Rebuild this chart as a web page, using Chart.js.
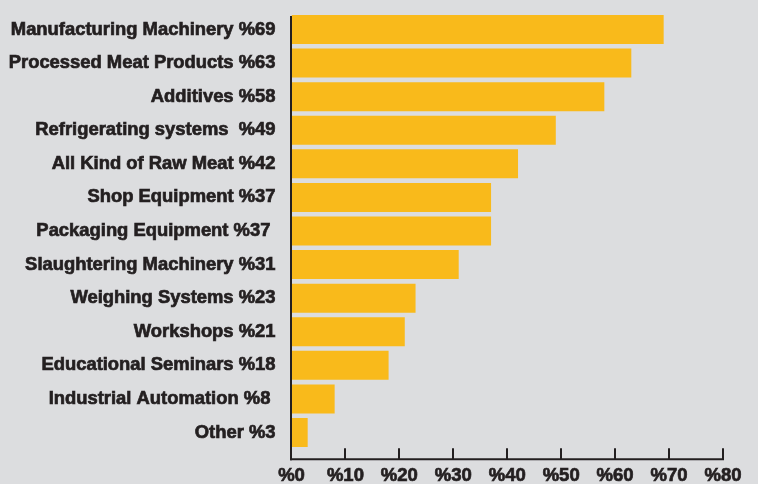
<!DOCTYPE html>
<html>
<head>
<meta charset="utf-8">
<script src="https://cdn.jsdelivr.net/npm/chart.js@4.4.1/dist/chart.umd.min.js"></script>
<style>
  html, body { margin: 0; padding: 0; background: #dcdddf; }
  #wrap { width: 758px; height: 484px; position: relative; }
</style>
</head>
<body>
<div id="wrap"><canvas id="c" width="758" height="484"></canvas></div>
<script>
const categories = [
  "Manufacturing Machinery %69",
  "Processed Meat Products %63",
  "Additives %58",
  "Refrigerating systems  %49",
  "All Kind of Raw Meat %42",
  "Shop Equipment %37",
  "Packaging Equipment %37 ",
  "Slaughtering Machinery %31",
  "Weighing Systems %23",
  "Workshops %21",
  "Educational Seminars %18",
  "Industrial Automation %8 ",
  "Other %3"
];
const values = [69, 63, 58, 49, 42, 37, 37, 31, 23, 21, 18, 8, 3];
const xTickValues = [0, 10, 20, 30, 40, 50, 60, 70, 80];
const xTickLabels = ["%0", "%10", "%20", "%30", "%40", "%50", "%60", "%70", "%80"];

const FONT = "'Liberation Sans', Arial, sans-serif";
const INK = "#231f20";

const axesPlugin = {
  id: 'axesPlugin',
  afterDatasetsDraw(chart) {
    const ctx = chart.ctx;
    const x = chart.scales.x;
    const area = chart.chartArea;
    const x0 = x.getPixelForValue(0);
    const baseY = area.bottom + 10;
    ctx.save();
    ctx.strokeStyle = INK;
    ctx.lineWidth = 2;
    ctx.beginPath();
    ctx.moveTo(x0 - 0.5, 16);
    ctx.lineTo(x0 - 0.5, baseY + 1);
    ctx.stroke();
    ctx.beginPath();
    ctx.moveTo(x0 - 1.5, baseY);
    ctx.lineTo(x.getPixelForValue(80) + 1, baseY);
    ctx.stroke();
    xTickValues.forEach(v => {
      if (v === 0) return;
      const px = Math.round(x.getPixelForValue(v));
      ctx.beginPath();
      ctx.moveTo(px, baseY - 11);
      ctx.lineTo(px, baseY);
      ctx.stroke();
    });
    ctx.restore();
  }
};

new Chart(document.getElementById('c'), {
  type: 'bar',
  data: {
    labels: categories,
    datasets: [{
      data: values,
      backgroundColor: '#f9ba1b',
      borderWidth: 0,
      barPercentage: 0.865,
      categoryPercentage: 1.0
    }]
  },
  options: {
    indexAxis: 'y',
    responsive: false,
    animation: false,
    devicePixelRatio: 1,
    layout: { padding: { top: 12.7, right: 35, left: 0, bottom: 0 } },
    plugins: { legend: { display: false }, tooltip: { enabled: false } },
    scales: {
      x: {
        min: 0, max: 80,
        afterBuildTicks(scale) { scale.ticks = xTickValues.map(v => ({ value: v })); },
        afterFit(scale) { scale.height = 34.7; scale.paddingLeft = 0; scale.paddingRight = 0; },
        grid: { display: false, drawTicks: false },
        border: { display: false },
        ticks: {
          padding: 16,
          color: INK,
          textStrokeColor: INK,
          textStrokeWidth: 0.7,
          font: { family: FONT, size: 18.5, weight: 'bold' },
          maxRotation: 0,
          callback: (v) => xTickLabels[xTickValues.indexOf(v)]
        }
      },
      y: {
        afterFit(scale) { scale.width = 291.5; scale.paddingTop = 0; scale.paddingBottom = 0; },
        grid: { display: false, drawTicks: false },
        border: { display: false },
        ticks: {
          padding: 16,
          color: INK,
          textStrokeColor: INK,
          textStrokeWidth: 0.7,
          font: { family: FONT, size: 18.4, weight: 'bold' },
          autoSkip: false
        }
      }
    }
  },
  plugins: [axesPlugin]
});
</script>
</body>
</html>
